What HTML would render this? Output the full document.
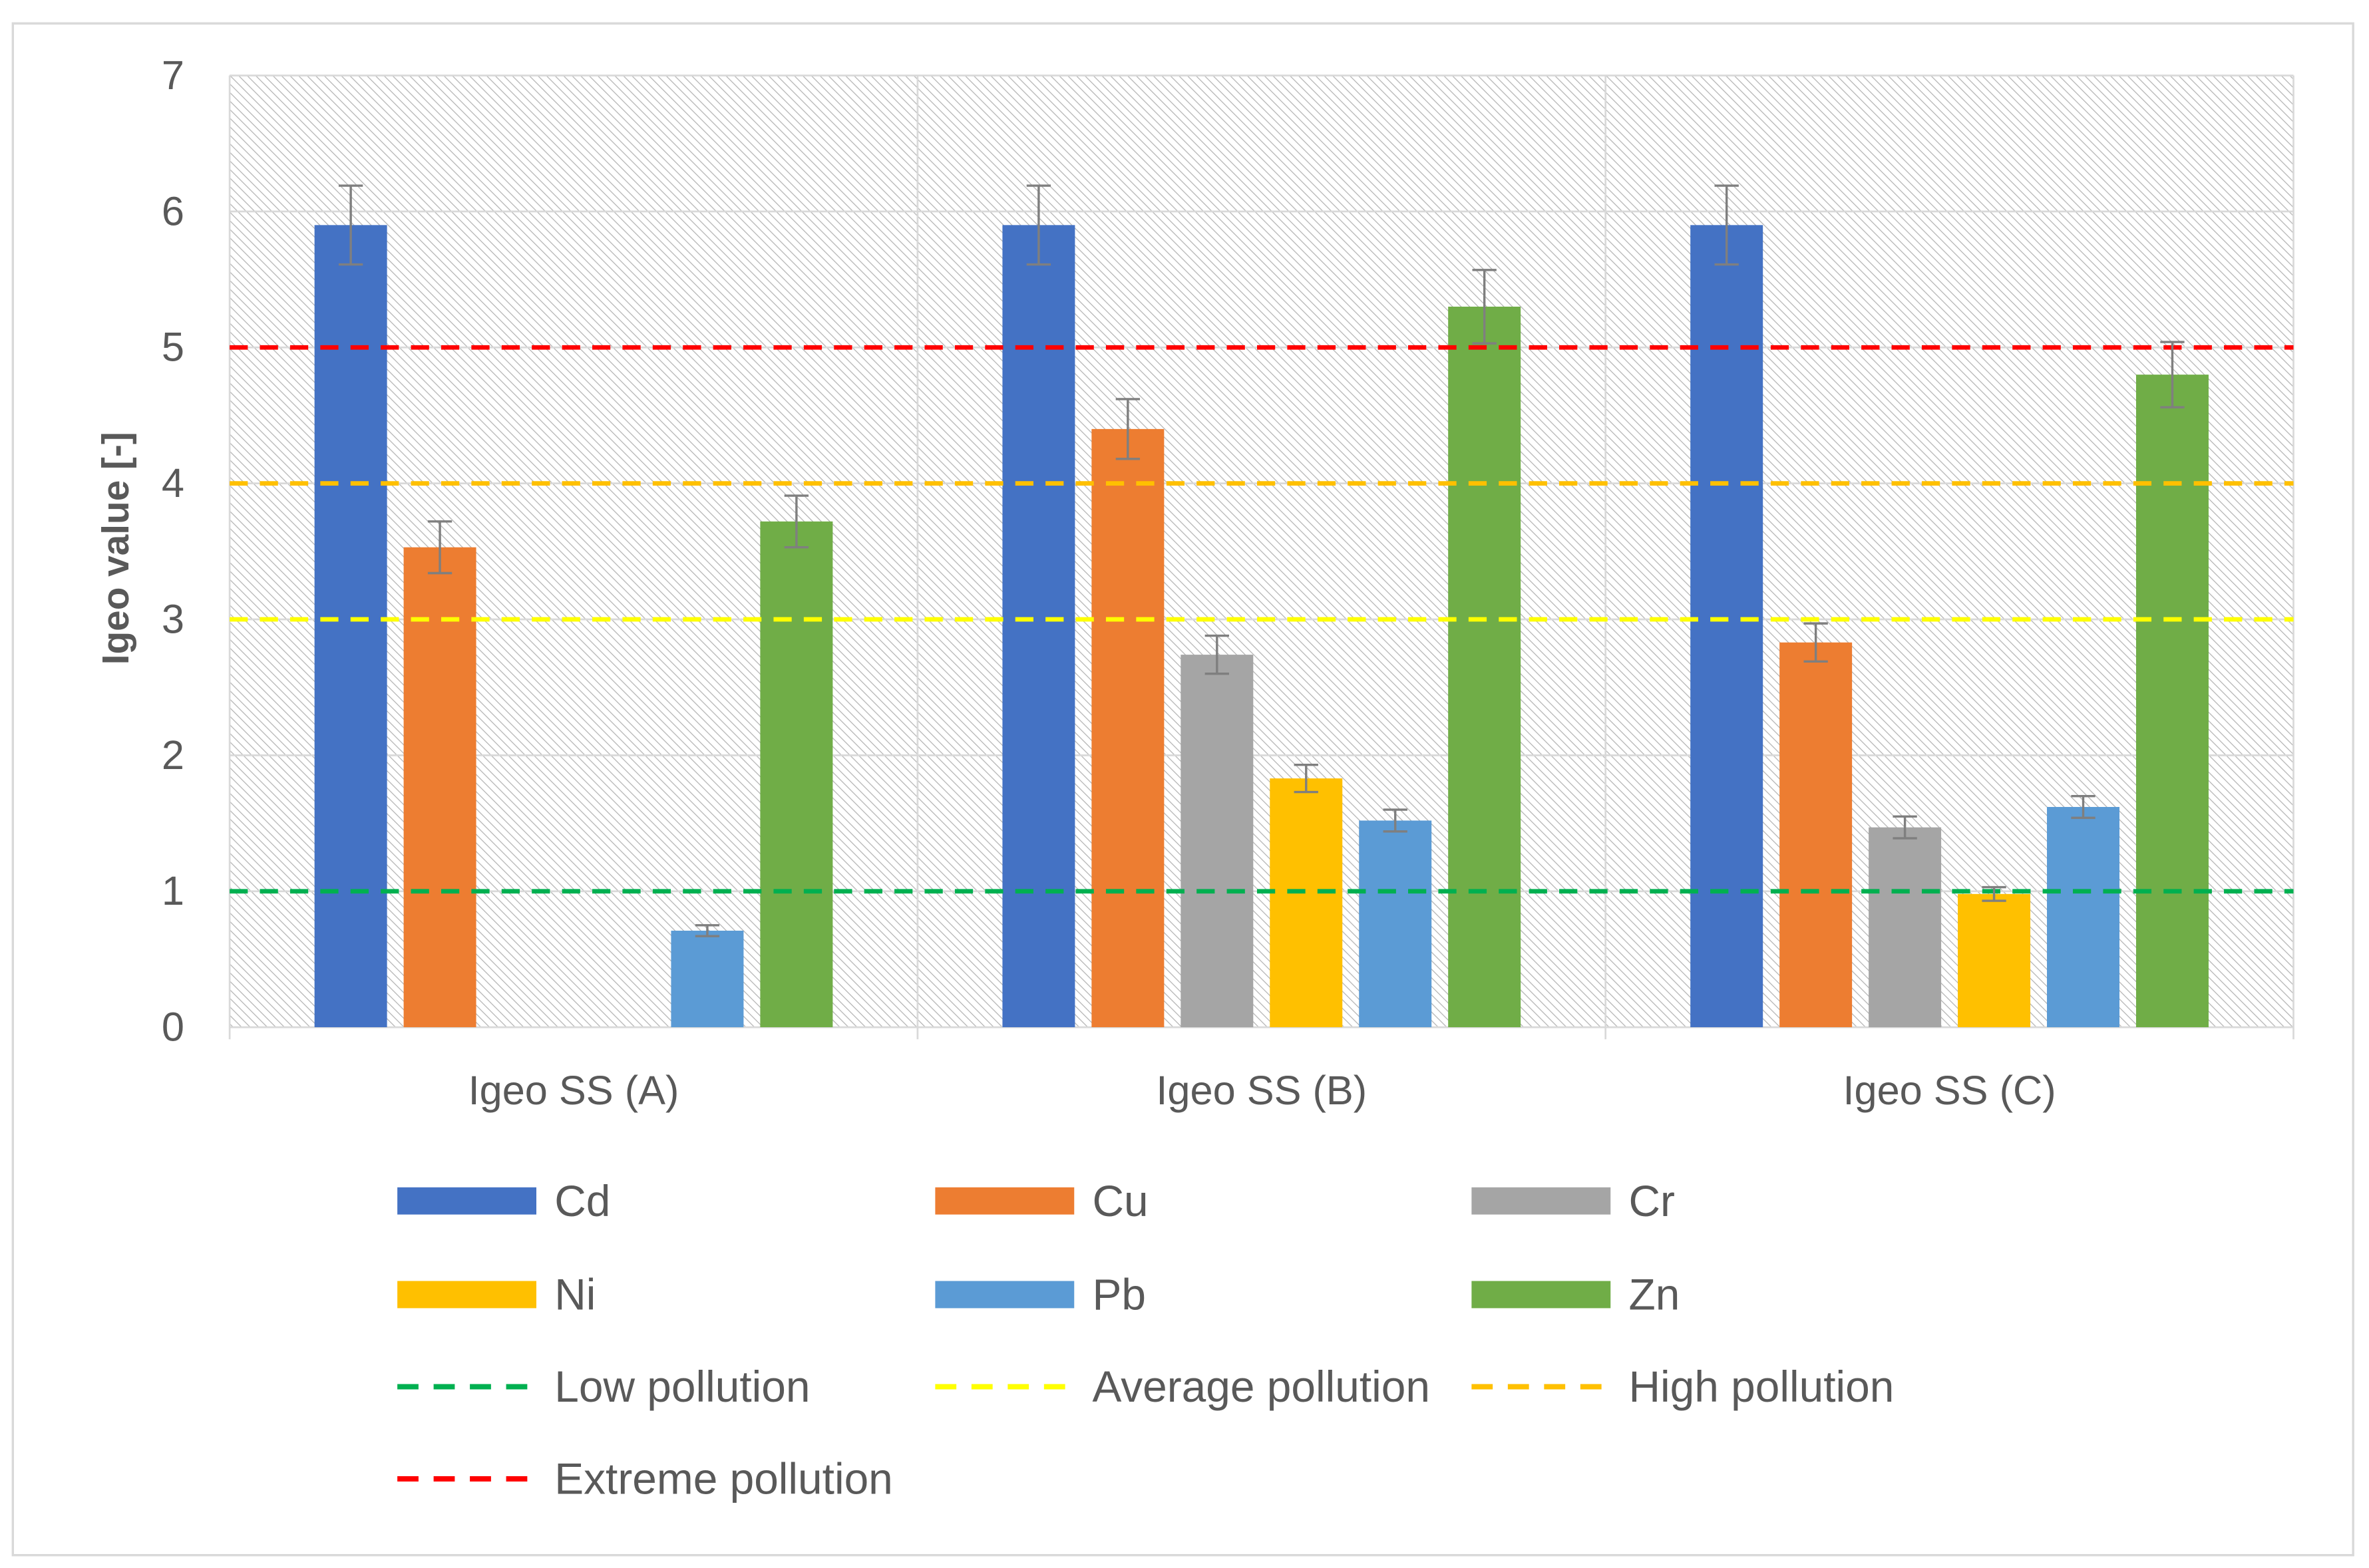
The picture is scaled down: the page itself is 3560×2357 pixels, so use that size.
<!DOCTYPE html>
<html><head><meta charset="utf-8"><style>
html,body{margin:0;padding:0;background:#fff;}
svg{display:block;}
text{font-family:"Liberation Sans",sans-serif;fill:#595959;}
</style></head><body>
<svg id="chart" width="3560" height="2357" viewBox="0 0 1568 1038" preserveAspectRatio="none" xmlns="http://www.w3.org/2000/svg">
<defs>
<pattern id="hatch" patternUnits="userSpaceOnUse" width="4" height="4" patternTransform="rotate(-45)">
<rect width="4" height="4" fill="#ffffff"/>
<line x1="0" y1="0" x2="0" y2="4" stroke="#b4b4b4" stroke-width="1.1"/>
</pattern>
</defs>
<rect x="8.5" y="15.5" width="1549" height="1014" fill="#fff" stroke="#d9d9d9" stroke-width="1.5"/>
<rect x="152" y="50" width="1366" height="630" fill="url(#hatch)"/>
<g id="grid"></g>
<g id="bars"></g>
<g id="thresholds"></g>
<g id="errors"></g>
<g id="axes"></g>
<text transform="translate(85,363) rotate(-90)" text-anchor="middle" font-size="25" font-weight="bold" style="fill:#595959">Igeo value [-]</text>
<g id="legend"></g>
</svg>
<script>
const categories = ["Igeo SS (A)", "Igeo SS (B)", "Igeo SS (C)"];
const seriesNames = ["Cd", "Cu", "Cr", "Ni", "Pb", "Zn"];
const cdValues = [5.9, 5.9, 5.9];
const cuValues = [3.53, 4.4, 2.83];
const crValues = [0, 2.74, 1.47];
const niValues = [0, 1.83, 0.98];
const pbValues = [0.71, 1.52, 1.62];
const znValues = [3.72, 5.3, 4.8];
const cdErr = [0.29, 0.29, 0.29];
const cuErr = [0.19, 0.22, 0.14];
const crErr = [0, 0.14, 0.08];
const niErr = [0, 0.1, 0.05];
const pbErr = [0.04, 0.08, 0.08];
const znErr = [0.19, 0.27, 0.24];
const thresholdNames = ["Low pollution", "Average pollution", "High pollution", "Extreme pollution"];
const thresholdValues = [1, 3, 4, 5];
const yTicks = [0, 1, 2, 3, 4, 5, 6, 7];

const seriesValues = [cdValues, cuValues, crValues, niValues, pbValues, znValues];
const seriesErrors = [cdErr, cuErr, crErr, niErr, pbErr, znErr];
const colors = ["#4472c4", "#ed7d31", "#a5a5a5", "#ffc000", "#5b9bd5", "#70ad47"];
const tColors = ["#00b050", "#ffff00", "#ffc000", "#ff0000"];
const NS = "http://www.w3.org/2000/svg";
const L = 152, R = 1518, T = 50, B = 680, yMax = 7;
const y = v => B - (v / yMax) * (B - T);
const catW = (R - L) / categories.length;
const barW = 48, step = 59;
const x = (ci, si) => L + catW * ci + catW / 2 + (si - (seriesNames.length - 1) / 2) * step - barW / 2;
function mk(tag, attrs, parent) {
  const e = document.createElementNS(NS, tag);
  for (const k in attrs) e.setAttribute(k, attrs[k]);
  parent.appendChild(e);
  return e;
}
const grid = document.getElementById("grid");
yTicks.forEach(t => {
  const gl = mk("line", {x1: L, x2: R, y1: y(t), y2: y(t), stroke: "#d9d9d9", "stroke-width": 1.2}, grid);
  
  
  const tl = mk("text", {x: 122, y: y(t) + 9, "text-anchor": "end", "font-size": 27}, grid);
  tl.textContent = t;
  
  
});
for (let i = 0; i <= categories.length; i++) {
  const gx = L + catW * i;
  const vl = mk("line", {x1: gx, x2: gx, y1: T, y2: B + 8, stroke: "#d9d9d9", "stroke-width": 1.2}, grid);
  
  
}
categories.forEach((c, ci) => {
  const cl = mk("text", {x: L + catW * ci + catW / 2, y: 731, "text-anchor": "middle", "font-size": 27}, grid);
  cl.textContent = c;
  
  
});
const bars = document.getElementById("bars");
const errors = document.getElementById("errors");
seriesValues.forEach((vals, si) => {
  vals.forEach((v, ci) => {
    if (v <= 0) return;
    const b = mk("rect", {x: x(ci, si), y: y(v), width: barW, height: B - y(v), fill: colors[si]}, bars);
    
    
    const e = seriesErrors[si][ci];
    const cx = x(ci, si) + barW / 2;
    const eg = mk("g", {stroke: "#7f7f7f", "stroke-width": 1.5}, errors);
    
    
    mk("line", {x1: cx, x2: cx, y1: y(v + e), y2: y(v - e)}, eg);
    mk("line", {x1: cx - 8, x2: cx + 8, y1: y(v + e), y2: y(v + e)}, eg);
    mk("line", {x1: cx - 8, x2: cx + 8, y1: y(v - e), y2: y(v - e)}, eg);
  });
});
const th = document.getElementById("thresholds");
thresholdValues.forEach((v, i) => {
  const l = mk("line", {x1: L, x2: R, y1: y(v), y2: y(v), stroke: tColors[i], "stroke-width": 3, "stroke-dasharray": "12 8"}, th);
  
  
});
const lg = document.getElementById("legend");
const cols = [263, 619, 974];
const rows = [795, 857, 918, 979];
const items = [];
seriesNames.forEach((n, i) => items.push({n, c: colors[i], t: "bar"}));
thresholdNames.forEach((n, i) => items.push({n, c: tColors[i], t: "line"}));
items.forEach((it, i) => {
  const cx = cols[i % 3], cy = rows[Math.floor(i / 3)];
  const g = mk("g", {}, lg);
  
  
  if (it.t === "bar") mk("rect", {x: cx, y: cy - 9, width: 92, height: 18, fill: it.c}, g);
  else mk("line", {x1: cx, x2: cx + 92, y1: cy, y2: cy, stroke: it.c, "stroke-width": 3.5, "stroke-dasharray": "14 10"}, g);
  const tx = mk("text", {x: cx + 104, y: cy + 10, "font-size": 29}, g);
  tx.textContent = it.n;
});
</script>
</body></html>
